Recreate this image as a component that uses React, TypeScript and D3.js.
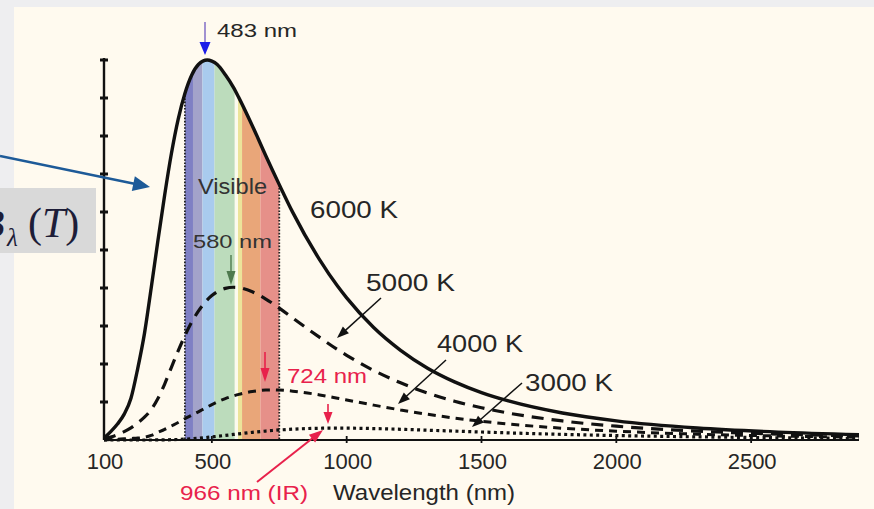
import React from 'react';
import * as d3 from 'd3';

// ---- data ----
const wavelengths = [100,125,150,175,200,225,250,275,300,325,350,375,400,425,450,483,500,520,550,580,600,650,700,724,750,800,900,966,1000,1100,1200,1300,1400,1500,1600,1800,2000,2300,2600,2900];
const b6000 = [0.5,2.2,4.2,6.8,11,18.8,28,40,52.5,64.5,75.4,84.4,91.2,96.0,98.8,100,99.7,98.8,96.1,92.8,90.1,82.7,74.8,71.1,67.2,59.9,47.4,40.5,37.4,29.6,23.6,18.9,15.3,12.48,10.27,7.10,5.04,3.16,2.08,1.42];
const b5000 = [0.3,0.8,1.4,2.2,3.2,4.5,6.0,8.0,10.9,14.73,19.13,23.45,27.45,30.98,33.9,36.9,38.0,39.0,39.9,40.2,40.1,39.0,37.1,36.0,34.7,32.1,27.0,23.8,22.3,18.3,15.04,12.37,10.21,8.48,7.08,5.02,3.63,2.33,1.56,1.07];
const b4000 = [0,0.1,0.2,0.3,0.4,0.5,0.7,1.2,2.0,2.8,3.7,4.6,5.6,6.5,7.4,8.7,9.3,10.0,10.9,11.6,12.01,12.79,13.13,13.17,13.13,12.86,11.86,11.0,10.54,9.18,7.9,6.76,5.77,4.93,4.21,3.10,2.32,1.54,1.05,0.74];
const b3000 = [0,0,0,0,0,0,0,0,0.02,0.04,0.08,0.14,0.23,0.34,0.48,0.69,0.82,0.97,1.21,1.46,1.62,2.02,2.36,2.50,2.64,2.85,3.09,3.125,3.12,3.01,2.82,2.58,2.34,2.10,1.87,1.48,1.17,0.83,0.59,0.43];
const seriesLabels = ['6000 K', '5000 K', '4000 K', '3000 K'];
const xTickValues = [100, 500, 1000, 1500, 2000, 2500];
const yTickValues = [10, 20, 30, 40, 50, 60, 70, 80, 90, 100];
const bandEdges = [400, 430, 465, 510, 585, 597, 612, 680, 750];
const peakLabels = ['483 nm', '580 nm', '724 nm', '966 nm (IR)'];

// ---- styles ----
const bandColors = ['#7f80c4', '#a3a3ca', '#a9cbee', '#bcdcbc', '#fbfaee', '#ece49a', '#e9a679', '#e69089'];
const W = 874, H = 509;
const SANS = '"Liberation Sans", Arial, Helvetica, sans-serif';
const SERIF = '"Liberation Serif", "DejaVu Serif", serif';
const RED = '#e8214b';
const TXT = '#262626';

function Arrow({ x1, y1, x2, y2, color, width = 1.5, headLen = 12, headW = 9, headColor }:
  { x1: number; y1: number; x2: number; y2: number; color: string; width?: number; headLen?: number; headW?: number; headColor?: string }) {
  const dx = x2 - x1, dy = y2 - y1;
  const L = Math.hypot(dx, dy);
  const ux = dx / L, uy = dy / L;
  const bx = x2 - ux * headLen, by = y2 - uy * headLen;
  const px = -uy * headW / 2, py = ux * headW / 2;
  return (
    <g>
      <line x1={x1} y1={y1} x2={bx + ux * 1} y2={by + uy * 1} stroke={color} strokeWidth={width} />
      <polygon points={`${x2},${y2} ${bx + px},${by + py} ${bx - px},${by - py}`} fill={headColor || color} />
    </g>
  );
}

export default function App() {
  const x = d3.scaleLinear().domain([100, 2900]).range([104, 859]);
  const y = d3.scaleLinear().domain([0, 100]).range([440, 60]);

  const line = d3.line<number>()
    .x((_, i) => x(wavelengths[i]))
    .y((d) => y(d))
    .curve(d3.curveMonotoneX);
  const area = d3.area<number>()
    .x((_, i) => x(wavelengths[i]))
    .y0(y(0))
    .y1((d) => y(d))
    .curve(d3.curveMonotoneX);

  const series = [
    { data: b6000, dash: undefined, w: 3.4 },
    { data: b5000, dash: '12 8', w: 3.2 },
    { data: b4000, dash: '8 6', w: 3 },
    { data: b3000, dash: '3 3.4', w: 3.2 },
  ];

  const bands = bandEdges.slice(0, -1).map((e, i) => ({ from: e, to: bandEdges[i + 1], color: bandColors[i] }));

  return (
    <svg width={W} height={H} style={{ position: 'absolute', left: 0, top: 0 }} xmlns="http://www.w3.org/2000/svg">
      <defs>
        <clipPath id="under6000">
          <path d={area(b6000) || ''} />
        </clipPath>
      </defs>
      {/* backgrounds */}
      <rect x={0} y={0} width={W} height={H} fill="#eeeef0" />
      <rect x={14} y={7} width={W - 14} height={H - 7} fill="#fffaef" />

      {/* visible band */}
      <g clipPath="url(#under6000)">
        {bands.map((b, i) => (
          <rect key={i} x={x(b.from)} y={y(100) - 5} width={x(b.to) - x(b.from)} height={y(0) - y(100) + 5} fill={b.color} />
        ))}
        <line x1={x(bandEdges[0])} x2={x(bandEdges[0])} y1={y(100)} y2={y(0)} stroke="#222" strokeWidth={1.8} strokeDasharray="1.6 1.6" />
        <line x1={x(bandEdges[bandEdges.length - 1])} x2={x(bandEdges[bandEdges.length - 1])} y1={y(100)} y2={y(0)} stroke="#222" strokeWidth={1.8} strokeDasharray="1.6 1.6" />
      </g>

      {/* label box */}
      <rect x={0} y={188} width={96} height={65} fill="#d9d9d9" />
      <text fontFamily={SERIF} fill="#1d1d38">
        <tspan x={-20} y={237} fontSize={40} fontStyle="italic">B</tspan>
        <tspan x={7} y={246} fontSize={25} fontStyle="italic">λ</tspan>
        <tspan x={28} y={237} fontSize={42}>(</tspan>
        <tspan fontSize={42} fontStyle="italic">T</tspan>
        <tspan fontSize={42}>)</tspan>
      </text>

      {/* axes */}
      <line x1={x(100)} x2={x(2900)} y1={y(0)} y2={y(0)} stroke="#111" strokeWidth={2} />
      <line x1={x(100)} x2={x(100)} y1={y(100) - 2} y2={y(0)} stroke="#111" strokeWidth={2.4} />
      {yTickValues.map((v) => (
        <line key={v} x1={x(100) - 4} x2={x(100) + 4} y1={y(v)} y2={y(v)} stroke="#111" strokeWidth={3} />
      ))}
      {xTickValues.slice(1).map((v) => (
        <line key={v} x1={x(v)} x2={x(v)} y1={y(0) - 4} y2={y(0) + 3} stroke="#111" strokeWidth={1.8} />
      ))}
      {xTickValues.map((v) => (
        <text key={v} x={x(v) + 1} y={469} textAnchor="middle" fontFamily={SANS} fontSize={22} fill={TXT}>{v}</text>
      ))}

      {/* curves */}
      {series.map((s, i) => (
        <path key={i} d={line(s.data) || ''} fill="none" stroke="#111" strokeWidth={s.w} strokeDasharray={s.dash} strokeLinecap="butt" />
      ))}

      {/* series labels */}
      <text x={310} y={218} fontFamily={SANS} fontSize={24} fill={TXT} textLength={88} lengthAdjust="spacingAndGlyphs">{seriesLabels[0]}</text>
      <text x={366} y={291} fontFamily={SANS} fontSize={24} fill={TXT} textLength={89} lengthAdjust="spacingAndGlyphs">{seriesLabels[1]}</text>
      <text x={437} y={352} fontFamily={SANS} fontSize={24} fill={TXT} textLength={86} lengthAdjust="spacingAndGlyphs">{seriesLabels[2]}</text>
      <text x={525} y={391} fontFamily={SANS} fontSize={24} fill={TXT} textLength={88} lengthAdjust="spacingAndGlyphs">{seriesLabels[3]}</text>
      <Arrow x1={381} y1={298} x2={337} y2={338} color="#111" width={1.5} />
      <Arrow x1={446} y1={360} x2={398} y2={404} color="#111" width={1.5} />
      <Arrow x1={522} y1={383} x2={472} y2={427} color="#111" width={1.5} />

      {/* peak annotations */}
      <Arrow x1={205} y1={22} x2={205} y2={55} color="#7a64c4" headColor="#1c1ce8" width={1.4} headLen={13} headW={11} />
      <text x={217} y={37} fontFamily={SANS} fontSize={19} fill={TXT} textLength={80} lengthAdjust="spacingAndGlyphs">{peakLabels[0]}</text>

      <text x={198} y={194} fontFamily={SANS} fontSize={22} fill="#333" textLength={69} lengthAdjust="spacingAndGlyphs">Visible</text>
      <text x={193} y={248} fontFamily={SANS} fontSize={19} fill="#333" textLength={79} lengthAdjust="spacingAndGlyphs">{peakLabels[1]}</text>
      <Arrow x1={231} y1={255} x2={231} y2={285} color="#4e7a4e" width={1.4} headLen={14} headW={9} />

      <text x={287} y={383} fontFamily={SANS} fontSize={20} fill={RED} textLength={80} lengthAdjust="spacingAndGlyphs">{peakLabels[2]}</text>
      <Arrow x1={265} y1={352} x2={265} y2={382} color={RED} width={1.6} headLen={14} headW={9} />
      <Arrow x1={328} y1={404} x2={328} y2={424} color={RED} width={1.6} headLen={12} headW={9} />
      <Arrow x1={257} y1={482} x2={323} y2={430} color={RED} width={2} headLen={14} headW={10} />
      <text x={180} y={500} fontFamily={SANS} fontSize={21} fill={RED} textLength={128} lengthAdjust="spacingAndGlyphs">{peakLabels[3]}</text>
      <text x={333} y={500} fontFamily={SANS} fontSize={22} fill={TXT} textLength={182} lengthAdjust="spacingAndGlyphs">Wavelength (nm)</text>

      {/* pointer arrow to curve */}
      <Arrow x1={0} y1={156} x2={150} y2={187} color="#1d5a98" width={2.5} headLen={17} headW={15} />
    </svg>
  );
}
